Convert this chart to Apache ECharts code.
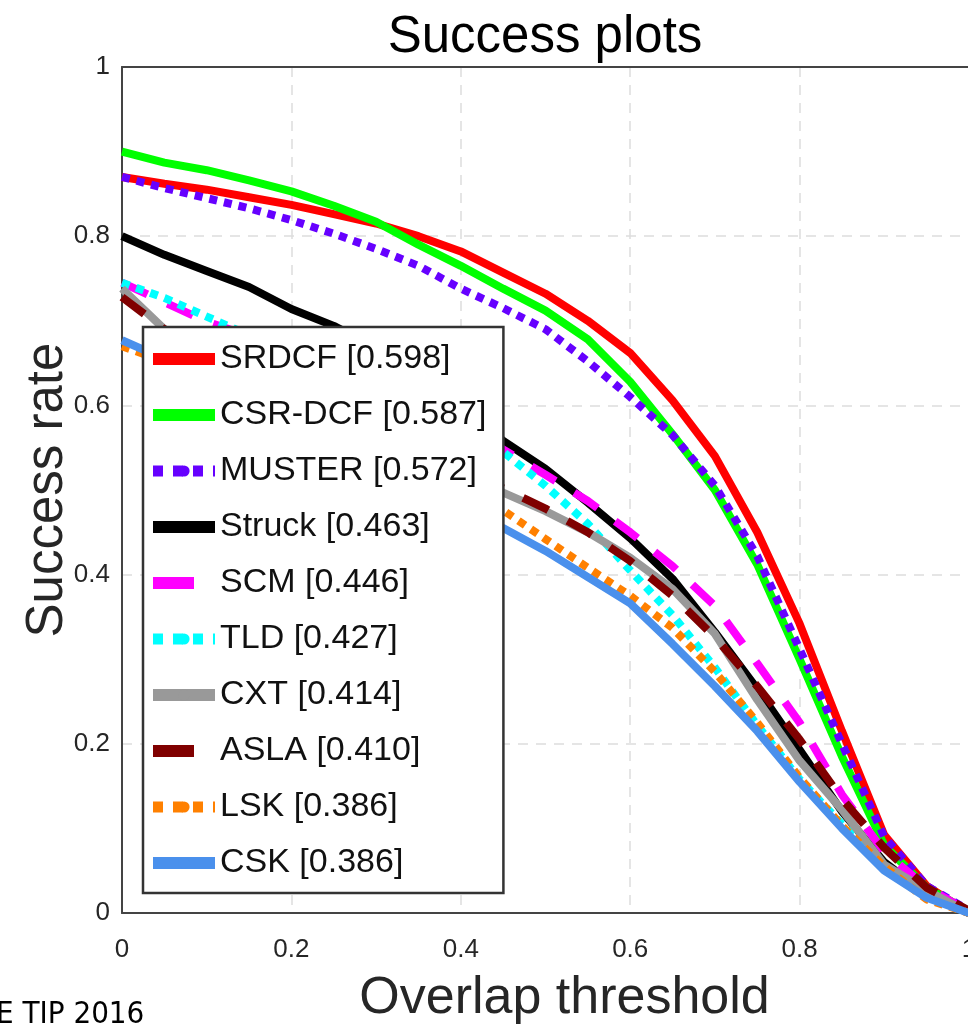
<!DOCTYPE html>
<html>
<head>
<meta charset="utf-8">
<script src="https://cdn.jsdelivr.net/npm/echarts@6/dist/echarts.min.js"></script>
<style>
html,body{margin:0;padding:0;background:#ffffff;}
#chart{width:968px;height:1024px;}
</style>
</head>
<body>
<div id="chart"></div>
<script>
// Overlap thresholds (x axis)
const thresholds = [0, 0.05, 0.1, 0.15, 0.2, 0.25, 0.3, 0.35, 0.4, 0.45, 0.5, 0.55, 0.6, 0.65, 0.7, 0.75, 0.8, 0.85, 0.9, 0.95, 1];
const xTicks = [0, 0.2, 0.4, 0.6, 0.8, 1];
const yTicks = [0, 0.2, 0.4, 0.6, 0.8, 1];

// Success rate per tracker
const SRDCF   = [0.870, 0.862, 0.855, 0.846, 0.837, 0.826, 0.815, 0.800, 0.782, 0.757, 0.732, 0.700, 0.662, 0.606, 0.540, 0.450, 0.342, 0.215, 0.092, 0.032, 0.000];
const CSRDCF  = [0.900, 0.887, 0.878, 0.866, 0.853, 0.836, 0.817, 0.790, 0.765, 0.738, 0.712, 0.678, 0.628, 0.566, 0.500, 0.412, 0.300, 0.185, 0.080, 0.030, 0.002];
const MUSTER  = [0.870, 0.857, 0.845, 0.833, 0.819, 0.803, 0.785, 0.765, 0.738, 0.715, 0.690, 0.652, 0.610, 0.565, 0.505, 0.422, 0.312, 0.200, 0.090, 0.032, 0.003];
const Struck  = [0.800, 0.778, 0.759, 0.740, 0.714, 0.694, 0.668, 0.637, 0.600, 0.558, 0.525, 0.485, 0.443, 0.395, 0.332, 0.265, 0.193, 0.120, 0.060, 0.022, 0.000];
const SCM     = [0.745, 0.722, 0.699, 0.682, 0.664, 0.645, 0.625, 0.603, 0.578, 0.548, 0.518, 0.487, 0.450, 0.410, 0.363, 0.295, 0.225, 0.140, 0.072, 0.030, 0.002];
const TLD     = [0.745, 0.727, 0.705, 0.683, 0.665, 0.645, 0.625, 0.603, 0.576, 0.545, 0.505, 0.460, 0.405, 0.352, 0.290, 0.222, 0.158, 0.105, 0.055, 0.020, 0.000];
const CXT     = [0.738, 0.690, 0.655, 0.628, 0.605, 0.585, 0.565, 0.543, 0.521, 0.497, 0.475, 0.450, 0.420, 0.383, 0.330, 0.252, 0.180, 0.122, 0.057, 0.027, 0.000];
const ASLA    = [0.728, 0.690, 0.660, 0.635, 0.612, 0.592, 0.572, 0.550, 0.527, 0.502, 0.478, 0.450, 0.416, 0.375, 0.326, 0.268, 0.205, 0.135, 0.077, 0.030, 0.003];
const LSK     = [0.670, 0.652, 0.635, 0.617, 0.600, 0.580, 0.560, 0.537, 0.508, 0.476, 0.442, 0.408, 0.375, 0.337, 0.285, 0.225, 0.160, 0.103, 0.055, 0.016, 0.000];
const CSK     = [0.677, 0.655, 0.632, 0.610, 0.588, 0.565, 0.541, 0.515, 0.485, 0.455, 0.428, 0.397, 0.366, 0.318, 0.268, 0.215, 0.155, 0.100, 0.050, 0.018, 0.000];

const seriesNames = ['SRDCF [0.598]', 'CSR-DCF [0.587]', 'MUSTER [0.572]', 'Struck [0.463]', 'SCM [0.446]', 'TLD [0.427]', 'CXT [0.414]', 'ASLA [0.410]', 'LSK [0.386]', 'CSK [0.386]'];
const seriesValues = [SRDCF, CSRDCF, MUSTER, Struck, SCM, TLD, CXT, ASLA, LSK, CSK];
const seriesColors = ['#ff0000', '#00ff00', '#6600ff', '#000000', '#ff00ff', '#00ffff', '#999999', '#800000', '#ff8000', '#4a90ec'];
const seriesKinds  = ['solid', 'solid', 'dot', 'solid', 'dash', 'dot', 'solid', 'dash', 'dot', 'solid'];

const FONT = "'Liberation Sans', Arial, Helvetica, sans-serif";
const TEXT = '#262626';

function plotDash(kind) {
  if (kind === 'dot') return [8, 7];
  if (kind === 'dash') return [28, 22];
  return 'solid';
}
function legendDash(kind) {
  if (kind === 'dot') return [10, 10];
  if (kind === 'dash') return [41, 40];
  return 'solid';
}

const series = seriesNames.map((name, i) => ({
  name: name,
  type: 'line',
  symbol: 'none',
  smooth: false,
  data: thresholds.map((t, j) => [t, seriesValues[i][j]]),
  lineStyle: { color: seriesColors[i], width: 8, type: plotDash(seriesKinds[i]), cap: 'butt' },
  itemStyle: { color: seriesColors[i] },
  z: 2 + i * 0.01
}));

const chart = echarts.init(document.getElementById('chart'), null, { renderer: 'canvas' });
chart.setOption({
  backgroundColor: '#ffffff',
  animation: false,
  title: {
    text: 'Success plots',
    left: 545,
    textAlign: 'center',
    top: 12,
    padding: 0,
    textStyle: { fontSize: 51, fontWeight: 'normal', color: '#000000', fontFamily: FONT }
  },
  grid: {
    left: 122, top: 67, width: 847, height: 846,
    show: false,
    containLabel: false,
    outerBoundsMode: 'none'
  },
  xAxis: [{
    type: 'value', min: xTicks[0], max: xTicks[xTicks.length - 1], interval: 0.2,
    name: 'Overlap threshold', nameLocation: 'middle', nameGap: 60,
    nameTextStyle: { fontSize: 52, color: TEXT, fontFamily: FONT, padding: [0, 0, 0, 38] },
    axisLine: { show: true, lineStyle: { color: '#444444', width: 2 } },
    axisTick: { show: false },
    axisLabel: { fontSize: 26, color: TEXT, fontFamily: FONT, margin: 24 },
    splitLine: { show: true, lineStyle: { color: '#dddddd', width: 1.5, type: [10, 8] } }
  }, {
    type: 'value', position: 'top', min: xTicks[0], max: xTicks[xTicks.length - 1], interval: 0.2,
    axisLine: { show: true, lineStyle: { color: '#444444', width: 2 } },
    axisTick: { show: false }, axisLabel: { show: false }, splitLine: { show: false }
  }],
  yAxis: {
    type: 'value', min: yTicks[0], max: yTicks[yTicks.length - 1], interval: 0.2,
    name: 'Success rate', nameLocation: 'middle', nameGap: 49, nameMoveOverlap: false,
    nameTextStyle: { fontSize: 51, color: TEXT, fontFamily: FONT },
    axisLine: { show: true, lineStyle: { color: '#444444', width: 2 } },
    axisTick: { show: false },
    axisLabel: { fontSize: 26, color: TEXT, fontFamily: FONT, margin: 12 },
    splitLine: { show: true, lineStyle: { color: '#dddddd', width: 1.5, type: [10, 8] } }
  },
  legend: {
    orient: 'vertical',
    left: 143, top: 327,
    padding: [12, 17, 10, 4],
    itemGap: 16,
    itemWidth: 62,
    itemHeight: 14,
    backgroundColor: '#ffffff',
    borderColor: '#333333',
    borderWidth: 2.5,
    z: 20,
    selectedMode: false,
    textStyle: { fontSize: 34, color: '#111111', fontFamily: FONT, lineHeight: 40 },
    data: seriesNames.map((name, i) => ({
      name: name,
      lineStyle: { width: seriesKinds[i] === 'dot' ? 11 : 12, type: legendDash(seriesKinds[i]), color: seriesColors[i], cap: 'butt' }
    }))
  },
  graphic: [{
    type: 'text',
    left: -4,
    top: 999,
    style: { text: 'E TIP 2016', fontSize: 31, fontFamily: "'Liberation Sans Narrow', 'DejaVu Sans Condensed', sans-serif", fill: '#000000' }
  }],
  series: series
});
</script>
</body>
</html>
